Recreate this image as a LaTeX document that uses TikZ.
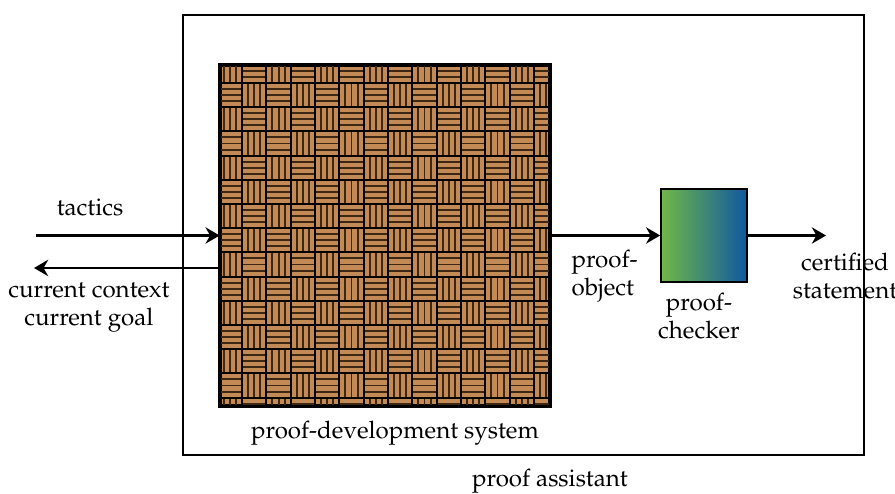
\documentclass[tikz,border=0pt]{standalone}
\usepackage[T1]{fontenc}
\usepackage{mathpazo}
\usetikzlibrary{arrows.meta,positioning}
\definecolor{wood}{RGB}{196,138,85}
\definecolor{woodline}{RGB}{60,38,20}
\definecolor{chkgreen}{RGB}{112,184,72}
\definecolor{chkblue}{RGB}{16,88,160}
\tikzset{
  flow/.style={line width=1.1pt,-{Stealth[length=6.5pt,width=7.5pt]}},
  lbl/.style={font=\fontsize{11.1}{12.9}\selectfont,align=center,inner sep=1pt},
}
\begin{document}
\begin{tikzpicture}[x=0.46pt,y=-0.46pt]
\useasboundingbox (0,0) rectangle (895,494);
% boxes
\node[draw,line width=0.9pt,minimum width=313.3pt,minimum height=202.4pt] (assistant) at (523.5,235) {};
\node[draw,line width=1.2pt,fill=wood,minimum width=150.9pt,minimum height=155.9pt] (pds) at (385,235.5) {};
\node[draw,line width=0.7pt,left color=chkgreen,right color=chkblue,minimum width=39.6pt,minimum height=42.8pt] (checker) at (704,235.5) {};
% basket weave
\begin{scope}
\clip (pds.south west) rectangle (pds.north east);
\foreach \i in {0,...,14}{
  \foreach \j in {0,...,14}{
    \pgfmathsetmacro{\xa}{217.7+24.33*\i}
    \pgfmathsetmacro{\ya}{58.8+24.2*\j}
    \pgfmathtruncatemacro{\parity}{mod(\i+\j,2)}
    \ifnum\parity=0
      \foreach \k in {1,2,3}
        \draw[woodline,line width=0.9pt] (\xa+6.08*\k,\ya) -- ++(0,24.2);
    \else
      \foreach \k in {1,2,3}
        \draw[woodline,line width=0.9pt] (\xa,\ya+6.05*\k) -- ++(24.33,0);
    \fi
    \draw[black,line width=1pt] (\xa,\ya) rectangle ++(24.33,24.2);
  }
}
\end{scope}
\draw[line width=1.2pt] (pds.south west) rectangle (pds.north east);
% connectors
\coordinate (tacin) at (36,235.5);
\coordinate (ctxout) at (34,268);
\coordinate (certout) at (826,235.5);
\draw[flow] (tacin) -- (pds.west);
\draw[flow] (pds.west |- ctxout) -- (ctxout);
\draw[flow] (pds.east) -- (checker.west);
\draw[flow] (checker.east) -- (certout);
% labels
\node[lbl] (tactics) at (90,207) {tactics};
\node[lbl] (context) at (89,308) {current context\\current goal};
\node[lbl,align=left,anchor=west] (object) at (569,276) {proof-\\object};
\node[lbl] (certified) at (845,276) {certified\\statement};
\node[lbl] (checkertxt) at (699,316) {proof-\\checker};
\node[lbl] (pdstxt) at (395,433) {proof-development system};
\node[lbl] (assisttxt) at (550,481) {proof assistant};
\end{tikzpicture}
\end{document}
